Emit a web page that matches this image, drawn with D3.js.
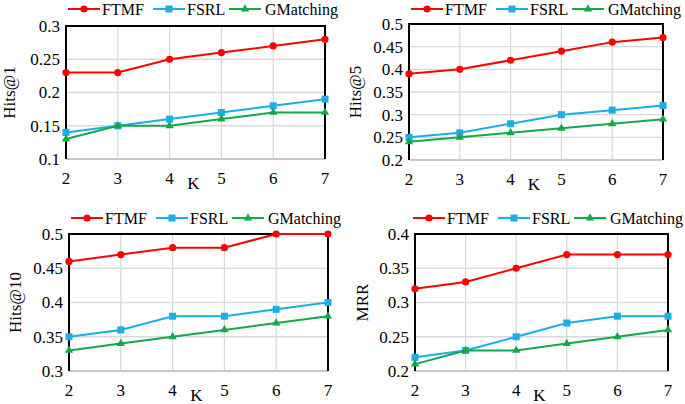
<!DOCTYPE html>
<html>
<head>
<meta charset="utf-8">
<script src="https://cdn.jsdelivr.net/npm/d3@7"></script>
<style>
  body { margin: 0; background: #fff; }
  text { font-family: "Liberation Serif", "Times New Roman", serif; }
</style>
</head>
<body>
<div id="chart"></div>
<script>
var kValues = [2, 3, 4, 5, 6, 7];
var seriesNames = ["FTMF", "FSRL", "GMatching"];

var hits1FTMF = [0.23, 0.23, 0.25, 0.26, 0.27, 0.28];
var hits1FSRL = [0.14, 0.15, 0.16, 0.17, 0.18, 0.19];
var hits1GM   = [0.13, 0.15, 0.15, 0.16, 0.17, 0.17];

var hits5FTMF = [0.39, 0.40, 0.42, 0.44, 0.46, 0.47];
var hits5FSRL = [0.25, 0.26, 0.28, 0.30, 0.31, 0.32];
var hits5GM   = [0.24, 0.25, 0.26, 0.27, 0.28, 0.29];

var hits10FTMF = [0.46, 0.47, 0.48, 0.48, 0.50, 0.50];
var hits10FSRL = [0.35, 0.36, 0.38, 0.38, 0.39, 0.40];
var hits10GM   = [0.33, 0.34, 0.35, 0.36, 0.37, 0.38];

var mrrFTMF = [0.32, 0.33, 0.35, 0.37, 0.37, 0.37];
var mrrFSRL = [0.22, 0.23, 0.25, 0.27, 0.28, 0.28];
var mrrGM   = [0.21, 0.23, 0.23, 0.24, 0.25, 0.26];

var hits1Ticks  = [0.1, 0.15, 0.2, 0.25, 0.3];
var hits5Ticks  = [0.2, 0.25, 0.3, 0.35, 0.4, 0.45, 0.5];
var hits10Ticks = [0.3, 0.35, 0.4, 0.45, 0.5];
var mrrTicks    = [0.2, 0.25, 0.3, 0.35, 0.4];

var colors = ["#ff0000", "#1aaee8", "#13a84a"];

var svg = d3.select("#chart").append("svg")
    .attr("width", 685)
    .attr("height", 404);

// panel boxes (plot area in page pixels)
var panels = [
  {label: "Hits@1",  ticks: hits1Ticks,  data: [hits1FTMF, hits1FSRL, hits1GM],
   left: 66, right: 325, top: 26, bottom: 159, legendY: 9, legendDx: 0, labelX: 9},
  {label: "Hits@5",  ticks: hits5Ticks,  data: [hits5FTMF, hits5FSRL, hits5GM],
   left: 409, right: 663, top: 24, bottom: 160, legendY: 9, legendDx: 0, labelX: 355},
  {label: "Hits@10", ticks: hits10Ticks, data: [hits10FTMF, hits10FSRL, hits10GM],
   left: 69, right: 328, top: 234, bottom: 371, legendY: 218, legendDx: 0, labelX: 15},
  {label: "MRR",     ticks: mrrTicks,    data: [mrrFTMF, mrrFSRL, mrrGM],
   left: 415, right: 668, top: 234, bottom: 371, legendY: 218, legendDx: -4, labelX: 362}
];

var legendOffsets = [{line: 2, text: 36}, {line: 87, text: 121}, {line: 163, text: 199}];

function marker(g, i, x, y, c) {
  if (i === 0) {
    g.append("circle").attr("cx", x).attr("cy", y).attr("r", 3.6).attr("fill", c);
  } else if (i === 1) {
    g.append("rect").attr("x", x - 3.5).attr("y", y - 3.5)
      .attr("width", 7).attr("height", 7).attr("fill", c);
  } else {
    g.append("path")
      .attr("d", d3.symbol().type(d3.symbolTriangle).size(30)())
      .attr("transform", "translate(" + x + "," + y + ")")
      .attr("fill", c);
  }
}

panels.forEach(function(p) {
  var x = d3.scaleLinear().domain([2, 7]).range([p.left, p.right]);
  var y = d3.scaleLinear().domain(d3.extent(p.ticks)).range([p.bottom, p.top]);
  var g = svg.append("g");

  // grid
  g.append("g").selectAll("line").data(p.ticks).enter().append("line")
    .attr("x1", p.left).attr("x2", p.right)
    .attr("y1", function(d) { return y(d); }).attr("y2", function(d) { return y(d); })
    .attr("stroke", "#d9d9d9").attr("stroke-width", 1.3);
  g.append("g").selectAll("line").data(kValues).enter().append("line")
    .attr("x1", function(d) { return x(d); }).attr("x2", function(d) { return x(d); })
    .attr("y1", p.top).attr("y2", p.bottom)
    .attr("stroke", "#d9d9d9").attr("stroke-width", 1.3);

  // bottom axis line is gray, other three sides black
  g.append("line").attr("x1", p.left).attr("x2", p.right)
    .attr("y1", p.bottom).attr("y2", p.bottom)
    .attr("stroke", "#c8c8c8").attr("stroke-width", 2);
  g.append("path")
    .attr("d", "M" + p.left + "," + p.bottom + "V" + p.top + "H" + p.right + "V" + p.bottom)
    .attr("fill", "none").attr("stroke", "#000").attr("stroke-width", 2);

  // tick labels
  g.append("g").selectAll("text").data(p.ticks).enter().append("text")
    .attr("x", p.left - 6).attr("y", function(d) { return y(d); })
    .attr("dy", "0.35em").attr("text-anchor", "end")
    .attr("font-size", 17)
    .text(function(d) { return String(d); });
  g.append("g").selectAll("text").data(kValues).enter().append("text")
    .attr("x", function(d) { return x(d); }).attr("y", p.bottom + 19)
    .attr("dy", "0.35em").attr("text-anchor", "middle")
    .attr("font-size", 17)
    .text(function(d) { return d; });

  // axis titles
  g.append("text")
    .attr("x", (p.left + p.right) / 2 - 2).attr("y", p.bottom + 24)
    .attr("dy", "0.35em").attr("text-anchor", "middle")
    .attr("font-size", 17).text("K");
  g.append("text")
    .attr("transform", "translate(" + p.labelX + "," + ((p.top + p.bottom) / 2) + ") rotate(-90)")
    .attr("dy", "0.35em").attr("text-anchor", "middle")
    .attr("font-size", 17).text(p.label);

  // series
  var line = d3.line()
    .x(function(d, i) { return x(kValues[i]); })
    .y(function(d) { return y(d); });
  p.data.forEach(function(vals, si) {
    g.append("path").datum(vals)
      .attr("d", line)
      .attr("fill", "none").attr("stroke", colors[si]).attr("stroke-width", 2);
    vals.forEach(function(v, i) {
      marker(g, si, x(kValues[i]), y(v), colors[si]);
    });
  });

  // legend
  seriesNames.forEach(function(name, si) {
    var lx = p.left + p.legendDx + legendOffsets[si].line;
    g.append("line").attr("x1", lx).attr("x2", lx + 32)
      .attr("y1", p.legendY).attr("y2", p.legendY)
      .attr("stroke", colors[si]).attr("stroke-width", 2);
    marker(g, si, lx + 16, p.legendY, colors[si]);
    g.append("text").attr("x", p.left + p.legendDx + legendOffsets[si].text).attr("y", p.legendY)
      .attr("dy", "0.35em").attr("font-size", 16).text(name);
  });
});
</script>
</body>
</html>
